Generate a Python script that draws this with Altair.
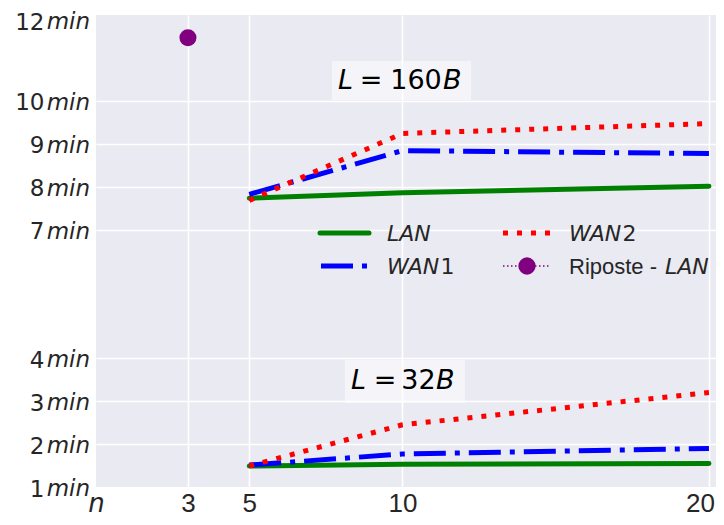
import altair as alt
import pandas as pd

# ---------------- data ----------------
n_vals = [5, 10, 20]
lan_160 = [7.73, 7.86, 8.01]
wan1_160 = [7.82, 8.84, 8.77]
wan2_160 = [7.68, 9.24, 9.47]
lan_32 = [1.49, 1.53, 1.55]
wan1_32 = [1.51, 1.77, 1.90]
wan2_32 = [1.49, 2.45, 3.20]
riposte_n = [3]
riposte_lan = [11.47]

y_ticks = [1, 2, 3, 4, 7, 8, 9, 10, 12]
x_ticks = [0, 3, 5, 10, 20]

TXT = "#262626"
BG = "#EAEAF2"
TOP_TICK = max(y_ticks)


def series_df(v160, v32):
    rows = []
    for n, v in zip(n_vals, v160):
        rows.append({"n": n, "t": v, "L": "160B"})
    for n, v in zip(n_vals, v32):
        rows.append({"n": n, "t": v, "L": "32B"})
    return pd.DataFrame(rows)


xscale = alt.Scale(domain=[0, 20.23], nice=False, zero=False)
yscale = alt.Scale(domain=[1, 12], nice=False, zero=False)

xaxis = alt.Axis(
    values=x_ticks, title=None, grid=True, gridColor="white", gridWidth=1.6,
    gridOpacity={"condition": {"test": "datum.value == 0", "value": 0}, "value": 1},
    domain=False, ticks=False, labelFlush=False, labelOverlap=False,
    labelExpr="datum.value == 0 ? 'n' : datum.label",
    labelFont={"condition": {"test": "datum.value == 0", "value": "DejaVu Sans"}, "value": "Liberation Sans"},
    labelFontStyle={"condition": {"test": "datum.value == 0", "value": "italic"}, "value": "normal"},
    labelOffset={"condition": {"test": "datum.value == 20", "value": -9}, "value": 0},
    labelFontSize=26, labelColor=TXT, labelBaseline="alphabetic", labelPadding=24,
)
yaxis = alt.Axis(
    values=y_ticks, title=None, grid=True, gridColor="white", gridWidth=1.6,
    gridOpacity={"condition": {"test": "datum.value == 1 || datum.value == 12", "value": 0}, "value": 1},
    domain=False, ticks=False, labelFlush=False, labelOverlap=False,
    labelFont="DejaVu Sans", labelFontSize=23, labelColor=TXT, labelPadding=52,
    labelBaseline="alphabetic",
    labelOffset={"condition": {"test": "datum.value == 12", "value": 14}, "value": 9},
)


def line_layer(df, color, dash, cap):
    kw = dict(color=color, strokeWidth=5, strokeCap=cap)
    if dash:
        kw["strokeDash"] = dash
    return alt.Chart(df).mark_line(**kw).encode(
        x=alt.X("n:Q", scale=xscale, axis=xaxis),
        y=alt.Y("t:Q", scale=yscale, axis=yaxis),
        detail="L:N",
    )


DASHDOT = [32, 9, 5, 9]
DOTTED = [5, 9]

lan = line_layer(series_df(lan_160, lan_32), "#008000", None, "round")
wan1 = line_layer(series_df(wan1_160, wan1_32), "#0000FF", DASHDOT, "butt")
wan2 = line_layer(series_df(wan2_160, wan2_32), "#FF0000", DOTTED, "butt")

rip = alt.Chart(pd.DataFrame({"n": riposte_n, "t": riposte_lan})).mark_circle(
    size=290, color="#800080", opacity=1
).encode(
    x=alt.X("n:Q", scale=xscale, axis=xaxis),
    y=alt.Y("t:Q", scale=yscale, axis=yaxis),
)


# "min" part of y tick labels (italic)
def min_layer(ticks, dy):
    return alt.Chart(pd.DataFrame({"t": ticks})).mark_text(
        text="min", align="right", baseline="alphabetic", dy=dy, font="DejaVu Sans",
        fontStyle="italic", fontSize=23, color=TXT
    ).encode(x=alt.value(-6), y=alt.Y("t:Q", scale=yscale, axis=yaxis))


min_lbl = min_layer([v for v in y_ticks if v != TOP_TICK], 9)
min_top = min_layer([TOP_TICK], 14)

one = pd.DataFrame({"a": [0]})


def txt(s, x, y, size, italic=False, align="left", font="DejaVu Sans"):
    return alt.Chart(one).mark_text(
        text=s, align=align, baseline="alphabetic", font=font,
        fontStyle="italic" if italic else "normal", fontSize=size, color="black" if size > 24 else TXT
    ).encode(x=alt.value(x), y=alt.value(y))


def box(x1, x2, y1, y2):
    return alt.Chart(one).mark_rect(color="white", opacity=0.5).encode(
        x=alt.value(x1), x2=alt.value(x2), y=alt.value(y1), y2=alt.value(y2))


def rule(x1, x2, y, color, width, dash=None, cap="butt"):
    kw = dict(color=color, strokeWidth=width, strokeCap=cap)
    if dash:
        kw["strokeDash"] = dash
    return alt.Chart(one).mark_rule(**kw).encode(
        x=alt.value(x1), x2=alt.value(x2), y=alt.value(y))


annot = [
    box(236, 375, 46, 85),
    txt("L", 242, 74, 27, italic=True),
    txt("=", 275, 74, 27, align="center"),
    txt("160", 320, 74, 27, align="center"),
    txt("B", 347, 74, 27, italic=True),
    box(249, 369, 345, 388),
    txt("L", 255, 374, 27, italic=True),
    txt("=", 289, 374, 27, align="center"),
    txt("32", 322.5, 374, 27, align="center"),
    txt("B", 340, 374, 27, italic=True),
]

legend = [
    rule(224, 273, 218, "#008000", 5, cap="round"),
    rule(407, 454, 218, "#FF0000", 5, DOTTED),
    rule(225, 272, 251, "#0000FF", 5, DASHDOT),
    rule(407, 454, 251, "#800080", 1.5, [1.5, 2.5]),
    alt.Chart(one).mark_circle(size=300, color="#800080", opacity=1).encode(
        x=alt.value(431), y=alt.value(251)),
    txt("LAN", 291, 226, 22, italic=True),
    txt("WAN", 291, 259, 22, italic=True),
    txt("1", 344.5, 259, 22),
    txt("WAN", 473, 226, 22, italic=True),
    txt("2", 526.5, 226, 22),
    txt("Riposte - ", 473, 259, 22, font="Liberation Sans"),
    txt("LAN", 569, 259, 22, italic=True),
]

chart = alt.layer(
    *legend, lan, wan1, wan2, rip, min_lbl, min_top, *annot
).properties(
    width=620, height=472,
    autosize=alt.AutoSizeParams(type="none"),
    padding={"left": 88, "top": 7, "right": 0, "bottom": 30},
).configure_view(fill=BG, stroke=None)

chart.save("out.html", embed_options={"renderer": "svg", "actions": False})
